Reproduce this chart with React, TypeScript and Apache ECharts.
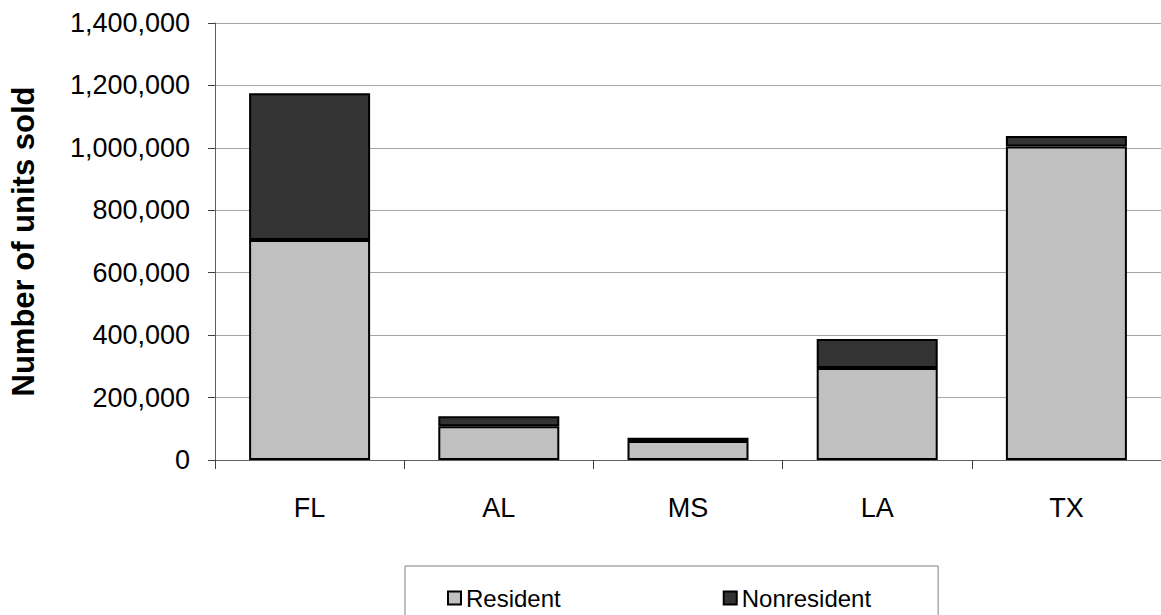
import React, { useEffect, useRef } from "react";
import * as echarts from "echarts";

const categories = ["FL", "AL", "MS", "LA", "TX"];
const residentValues = [705000, 108000, 61000, 295000, 1004000];
const nonresidentValues = [470000, 32000, 10000, 93000, 34000];
const yTicks = { min: 0, max: 1400000, interval: 200000 };
const seriesNames = ["Resident", "Nonresident"];
const yAxisTitle = "Number of units sold";

export default function App() {
  const ref = useRef<HTMLDivElement>(null);
  useEffect(() => {
    if (!ref.current) return;
    const chart = echarts.init(ref.current, null, { renderer: "svg" });
    const font = "Liberation Sans, Arial, sans-serif";
    chart.setOption({
      animation: false,
      backgroundColor: "#ffffff",
      textStyle: { fontFamily: font },
      grid: { left: 211, top: 23, width: 957, height: 437, containLabel: false },
      legend: {
        left: 405,
        top: 566,
        padding: [20, 67, 40, 42],
        borderColor: "#808080",
        borderWidth: 1,
        itemWidth: 13,
        itemHeight: 13,
        itemGap: 162,
        icon: "rect",
        textStyle: { fontSize: 24, color: "#000", fontFamily: font },
        data: seriesNames,
      },
      xAxis: {
        type: "category",
        data: categories,
        axisLine: { lineStyle: { color: "#606060", width: 1 } },
        axisTick: { show: true, length: 9, alignWithLabel: false, lineStyle: { color: "#404040" } },
        axisLabel: { fontSize: 27, color: "#000", margin: 34, fontFamily: font },
      },
      yAxis: {
        type: "value",
        min: yTicks.min,
        max: yTicks.max,
        interval: yTicks.interval,
        name: yAxisTitle,
        nameLocation: "middle",
        nameRotate: 90,
        nameGap: 176,
        nameTextStyle: { fontSize: 31, fontWeight: "bold", color: "#000", fontFamily: font },
        axisLine: { show: true, lineStyle: { color: "#606060", width: 1 } },
        axisTick: { show: true, length: 7, lineStyle: { color: "#404040" } },
        axisLabel: {
          fontSize: 27,
          color: "#000",
          margin: 25,
          fontFamily: font,
          formatter: (v: number) => v.toLocaleString("en-US"),
        },
        splitLine: { show: true, lineStyle: { color: "#a6a6a6", width: 1 } },
      },
      series: [
        {
          name: seriesNames[0],
          type: "bar",
          stack: "total",
          data: residentValues,
          barWidth: 121,
          itemStyle: { color: "#c0c0c0", borderColor: "#000", borderWidth: 2 },
        },
        {
          name: seriesNames[1],
          type: "bar",
          stack: "total",
          data: nonresidentValues,
          barWidth: 121,
          itemStyle: { color: "#333333", borderColor: "#000", borderWidth: 2 },
        },
      ],
    });
    return () => chart.dispose();
  }, []);
  return (
    <div
      ref={ref}
      style={{ position: "fixed", left: 0, top: 0, width: 1161, height: 615, background: "#fff" }}
    />
  );
}
